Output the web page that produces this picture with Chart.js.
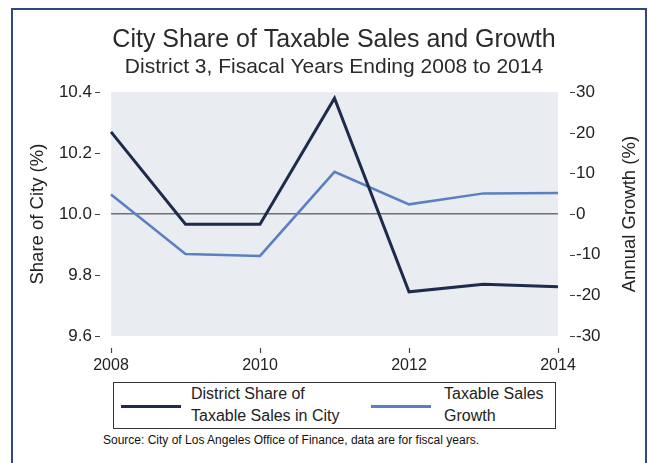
<!DOCTYPE html>
<html>
<head>
<meta charset="utf-8">
<script src="https://cdn.jsdelivr.net/npm/chart.js@4.4.1/dist/chart.umd.min.js"></script>
<style>
    body { margin: 0; background: #fff; font-family: "Liberation Sans", Arial, sans-serif; }
    #wrap { position: relative; width: 648px; height: 463px; overflow: hidden; background: #fff; }
    #frame { position: absolute; left: 11px; top: 8px; width: 632px; height: 470px;
        border: 2px solid #2c4a82; border-bottom: none; }
    #cv { position: absolute; left: 0; top: 0; }
    #legend { position: absolute; left: 113px; top: 382px; width: 441px; height: 45px;
        border: 1px solid #333; background: #fff; color: #222; font-size: 16px; line-height: 22px; }
    .swatch { position: absolute; top: 22px; height: 3px; }
    .ltxt { position: absolute; top: 0px; }
    #source { position: absolute; left: 103px; top: 433px; font-size: 12px; color: #111; }
</style>
</head>
<body>
<div id="wrap">
    <div id="frame"></div>
    <canvas id="cv" width="648" height="380"></canvas>
    <div id="legend">
        <div class="swatch" style="left:7px;width:60px;background:#1e2b4c;"></div>
        <div class="ltxt" style="left:77px;">District Share of<br>Taxable Sales in City</div>
        <div class="swatch" style="left:257px;width:60px;background:#5b80c2;height:2.5px;"></div>
        <div class="ltxt" style="left:330px;">Taxable Sales<br>Growth</div>
    </div>
    <div id="source">Source: City of Los Angeles Office of Finance, data are for fiscal years.</div>
</div>
<script>
    'use strict';

    // ------------------------------------------------------- //
    // Data
    // ------------------------------------------------------ //
    var years = ['2008', '2009', '2010', '2011', '2012', '2013', '2014'];
    var districtShare = [10.27, 9.967, 9.967, 10.38, 9.745, 9.77, 9.762];
    var salesGrowth = [4.8, -9.8, -10.3, 10.4, 2.4, 5.1, 5.2];
    var shareTicks = [9.6, 9.8, 10.0, 10.2, 10.4];
    var growthTicks = [-30, -20, -10, 0, 10, 20, 30];
    var rightTitle = 'Annual Growth (%)';

    var plotBg = {
        id: 'plotBg',
        beforeDraw: function (chart) {
            var a = chart.chartArea, ctx = chart.ctx;
            ctx.save();
            ctx.fillStyle = '#e9ecf1';
            ctx.fillRect(a.left, a.top, a.right - a.left, a.bottom - a.top);
            ctx.restore();
        }
    };

    // small dashes next to tick labels, offset from the plot
    var tickDashes = {
        id: 'tickDashes',
        afterDraw: function (chart) {
            var a = chart.chartArea, ctx = chart.ctx;
            var y = chart.scales.y, y2 = chart.scales.y2, x = chart.scales.x;
            ctx.save();
            ctx.strokeStyle = '#444';
            ctx.lineWidth = 1.2;
            ctx.beginPath();
            y.ticks.forEach(function (t) {
                var p = Math.round(y.getPixelForValue(t.value)) + 0.5;
                ctx.moveTo(a.left - 16, p); ctx.lineTo(a.left - 11, p);
            });
            y2.ticks.forEach(function (t) {
                var p = Math.round(y2.getPixelForValue(t.value)) + 0.5;
                ctx.moveTo(a.right + 12, p); ctx.lineTo(a.right + 17, p);
            });
            years.forEach(function (lab, i) {
                if (i % 2 !== 0) return;
                var p = Math.round(x.getPixelForValue(i)) + 0.5;
                ctx.moveTo(p, a.bottom + 12); ctx.lineTo(p, a.bottom + 17);
            });
            ctx.stroke();

            // right axis title reads bottom to top, like the left one
            ctx.translate(630, (a.top + a.bottom) / 2);
            ctx.rotate(-Math.PI / 2);
            ctx.fillStyle = '#222';
            ctx.font = '18.5px "Liberation Sans"';
            ctx.textAlign = 'center';
            ctx.textBaseline = 'middle';
            ctx.fillText(rightTitle, 0, 0);
            ctx.restore();
        }
    };

    var cv = document.getElementById('cv');
    var chart = new Chart(cv, {
        type: 'line',
        data: {
            labels: years,
            datasets: [
                {
                    label: 'District Share of Taxable Sales in City',
                    data: districtShare,
                    yAxisID: 'y',
                    borderColor: '#1e2b4c',
                    borderWidth: 3,
                    pointRadius: 0,
                    tension: 0
                },
                {
                    label: 'Taxable Sales Growth',
                    data: salesGrowth,
                    yAxisID: 'y2',
                    borderColor: '#5b80c2',
                    borderWidth: 2.5,
                    pointRadius: 0,
                    tension: 0
                }
            ]
        },
        options: {
            responsive: false,
            animation: false,
            layout: { padding: { left: 20, right: 0, top: 25, bottom: 0 } },
            plugins: {
                legend: { display: false },
                tooltip: { enabled: false },
                title: {
                    display: true,
                    text: 'City Share of Taxable Sales and Growth',
                    color: '#2a2a2a',
                    font: { family: 'Liberation Sans', size: 25, weight: 'normal' },
                    padding: { top: 0, bottom: 0 }
                },
                subtitle: {
                    display: true,
                    text: 'District 3, Fisacal Years Ending 2008 to 2014',
                    color: '#2a2a2a',
                    font: { family: 'Liberation Sans', size: 21, weight: 'normal' },
                    padding: { top: 0, bottom: 12 }
                }
            },
            scales: {
                x: {
                    offset: false,
                    grid: { display: false, drawTicks: false },
                    border: { display: false },
                    ticks: {
                        autoSkip: false,
                        maxRotation: 0,
                        padding: 20,
                        color: '#222',
                        font: { family: 'Liberation Sans', size: 16 },
                        callback: function (v, i) { return i % 2 === 0 ? years[i] : ''; }
                    },
                    afterFit: function (s) { s.height = 44; }
                },
                y: {
                    position: 'left',
                    min: 9.6,
                    max: 10.4,
                    afterBuildTicks: function (s) {
                        s.ticks = shareTicks.map(function (v) { return { value: v }; });
                    },
                    grid: {
                        drawTicks: false,
                        lineWidth: 1.5,
                        color: function (c) {
                            return c.tick && Math.abs(c.tick.value - 10) < 1e-6 ? '#6e7076' : 'transparent';
                        }
                    },
                    border: { display: false },
                    ticks: {
                        padding: 19,
                        color: '#222',
                        font: { family: 'Liberation Sans', size: 17 },
                        callback: function (v) { return Number(v).toFixed(1); }
                    },
                    title: {
                        display: true,
                        text: 'Share of City (%)',
                        color: '#222',
                        font: { family: 'Liberation Sans', size: 18.5 },
                        padding: { top: 7, bottom: 0 }
                    },
                    afterFit: function (s) { s.width = 91; }
                },
                y2: {
                    position: 'right',
                    min: -30,
                    max: 30,
                    afterBuildTicks: function (s) {
                        s.ticks = growthTicks.map(function (v) { return { value: v }; });
                    },
                    grid: { display: false, drawTicks: false },
                    border: { display: false },
                    ticks: {
                        padding: 18,
                        color: '#222',
                        font: { family: 'Liberation Sans', size: 17 },
                        callback: function (v) { return v < 0 ? '-' + Math.abs(v) : String(v); }
                    },
                    afterFit: function (s) { s.width = 90; }
                }
            }
        },
        plugins: [plotBg, tickDashes]
    });
</script>
</body>
</html>
